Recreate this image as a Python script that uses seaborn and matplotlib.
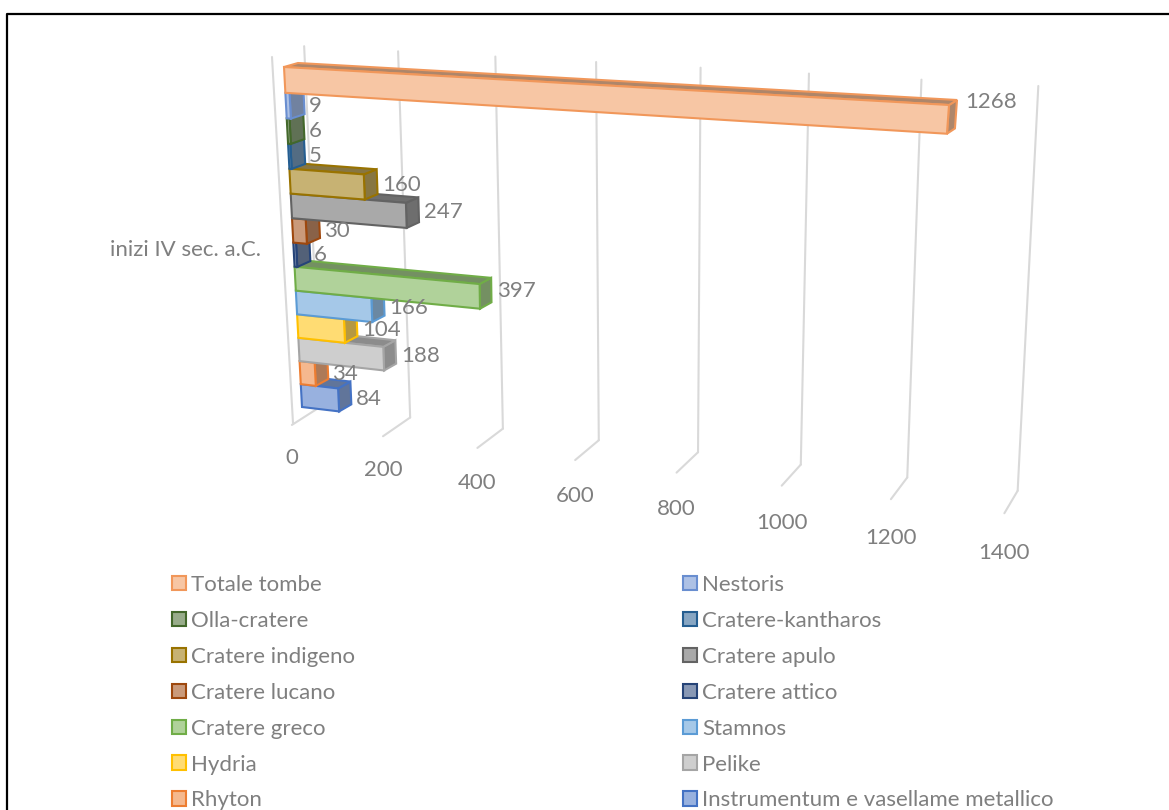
import numpy as np
import pandas as pd
import matplotlib
matplotlib.use('Agg')
import matplotlib.pyplot as plt
import seaborn as sns
from matplotlib.colors import to_rgb
from matplotlib.patches import Patch, Polygon
from matplotlib.transforms import Affine2D, Transform

# dati del grafico
serie = ['Totale tombe', 'Nestoris', 'Olla-cratere', 'Cratere-kantharos', 'Cratere indigeno',
         'Cratere apulo', 'Cratere lucano', 'Cratere attico', 'Cratere greco', 'Stamnos',
         'Hydria', 'Pelike', 'Rhyton', 'Instrumentum e vasellame metallico']
valori = [1268, 9, 6, 5, 160, 247, 30, 6, 397, 166, 104, 188, 34, 84]
colori = ['#F1975A', '#698ED0', '#43682B', '#255E91', '#997300', '#636363', '#9E480E',
          '#264478', '#70AD47', '#5B9BD5', '#FFC000', '#A5A5A5', '#ED7D31', '#4472C4']
tick_valori = [0, 200, 400, 600, 800, 1000, 1200, 1400]
categoria = 'inizi IV sec. a.C.'

GRIGIO = '#7F7F7F'
GRIGLIA = '#D9D9D9'
FONT = 16

sns.set_theme(style='white')
plt.rcParams['font.family'] = ['Lato', 'DejaVu Sans']


# prospettiva del grafico 3D: piano dati -> pixel dell'immagine
class Piano(Transform):
    input_dims = 2
    output_dims = 2

    def __init__(self, src, dst):
        super().__init__()
        A = []
        b = []
        for (x, y), (u, v) in zip(src, dst):
            A.append([x, y, 1, 0, 0, 0, -u * x, -u * y])
            A.append([0, 0, 0, x, y, 1, -v * x, -v * y])
            b += [u, v]
        sol = np.linalg.lstsq(np.array(A, float), np.array(b, float), rcond=None)[0]
        self.H = np.append(sol, 1).reshape(3, 3)

    def transform_non_affine(self, values):
        pts = np.asarray(values, float)
        q = np.column_stack([pts, np.ones(len(pts))]) @ self.H.T
        return q[:, :2] / q[:, 2:]

    def px(self, x, y):
        return self.transform_non_affine([[x, y]])[0]


angoli = [(0, -0.5), (1268, -0.5), (0, 13.5), (1268, 13.5)]
fronte = Piano(angoli, [(284, 67), (949, 105), (302, 407), (922, 481)])
retro = Piano(angoli, [(298, 63), (957, 100), (314.5, 400), (930, 473)])

# taratura delle linee di griglia
griglia_alto = [(306, 47), (398, 50), (495, 55), (595, 62), (699, 68), (808, 74), (922, 80), (1040, 87)]
griglia_basso = [(318, 410), (412, 416), (504, 428), (599, 439), (698, 452), (801, 465), (906, 478), (1018, 490)]
griglia_fronte = [(293, 423), (383, 436), (477, 448), (575, 462), (675, 474), (782, 485), (890, 500), (1006, 512)]
parete = Piano([(v, 0) for v in tick_valori] + [(v, 1) for v in tick_valori], griglia_alto + griglia_basso)
pavimento = Piano([(v, 0) for v in tick_valori] + [(v, 1) for v in tick_valori], griglia_fronte + griglia_basso)

fig = plt.figure(figsize=(11.69, 8.10), dpi=100)
ax = fig.add_axes([0, 0, 1, 1])
pixel = Affine2D().scale(1, -1).translate(0, 810)

df = pd.DataFrame({'serie': serie, 'valore': valori})
sns.barplot(data=df, x='valore', y='serie', hue='serie', order=serie, hue_order=serie,
            palette=dict(zip(serie, colori)), orient='h', width=1, saturation=1, legend=False, ax=ax)
ax.axis('off')

# griglia
for v in tick_valori:
    ax.plot([v, v], [0, 1], color=GRIGLIA, lw=1.5, transform=parete + pixel, zorder=1, clip_on=False)
    xa, ya = parete.px(v, 1)
    xb, yb = pavimento.px(v, 0)
    ax.plot([xa, xb], [ya, yb], color=GRIGLIA, lw=1.5, transform=pixel, zorder=1, clip_on=False)
    ax.text(xb, yb + 33 + v * 0.0045, str(v), color=GRIGIO, fontsize=FONT, ha='center', va='center',
            transform=pixel)
ax.plot([272, 293], [57, 423], color=GRIGLIA, lw=1.5, transform=pixel, zorder=1, clip_on=False)

# barre: faccia frontale, lato destro e faccia superiore
for i, cont in enumerate(ax.containers):
    rect = cont[0]
    col = to_rgb(colori[i])
    scuro = tuple(0.45 * c + 0.55 * 0.47 for c in col)
    v, y0 = rect.get_width(), rect.get_y()
    y1 = y0 + rect.get_height()
    z = 40 - i * 2
    rect.set_transform(fronte + pixel)
    rect.set_facecolor(tuple(0.55 * c + 0.45 for c in col))
    rect.set_edgecolor(col)
    rect.set_linewidth(1.5)
    rect.set_clip_on(False)
    rect.set_zorder(z + 1)
    for a, b in [((v, y0), (v, y1)), ((0, y0), (v, y0))]:
        poly = [fronte.px(*a), fronte.px(*b), retro.px(*b), retro.px(*a)]
        ax.add_patch(Polygon(poly, closed=True, facecolor=scuro, edgecolor=col, lw=1.5,
                             transform=pixel, zorder=z, clip_on=False))
    # etichetta del valore
    xr = retro.px(v, y0)[0]
    yc = fronte.px(v, y0 + 0.5)[1]
    ax.text(xr + 5 + v * 0.0025, yc - v * 0.0135, str(valori[i]), color=GRIGIO, fontsize=FONT,
            ha='left', va='center', transform=pixel, zorder=60)

ax.text(261, 250, categoria, color=GRIGIO, fontsize=FONT, ha='right', va='center', transform=pixel)

# legenda su due colonne, riempita per righe
handles = [Patch(facecolor=tuple(0.55 * c + 0.45 for c in to_rgb(k)), edgecolor=k, lw=1.5, label=s)
           for s, k in zip(serie, colori)]
ordine = handles[0::2] + handles[1::2]
fig.legend(handles=ordine, ncol=2, frameon=False, fontsize=FONT, labelcolor=GRIGIO,
           loc='upper left', bbox_to_anchor=(172 / 1169, 1 - 575 / 810), borderaxespad=0, borderpad=0,
           handlelength=0.63, handleheight=0.63, handletextpad=0.23, labelspacing=0.716, columnspacing=14.75)

# cornice
ax.plot([7, 7, 1169], [810, 14, 14], color='black', lw=1.6, transform=pixel, clip_on=False)

fig.savefig('out.png', dpi=100)
